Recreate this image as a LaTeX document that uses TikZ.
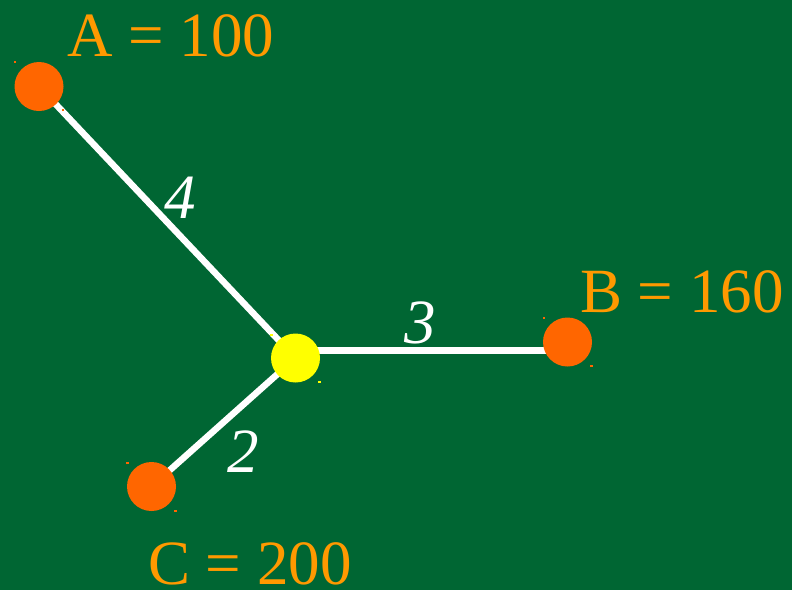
\documentclass[tikz,border=0pt]{standalone}
\usepackage{fontspec}
\setmainfont{Liberation Serif}
\definecolor{bg}{HTML}{006633}
\definecolor{dotor}{HTML}{FF6600}
\definecolor{txtor}{HTML}{FF9900}
\definecolor{ylw}{HTML}{FFFF00}
\tikzset{
  dotnode/.style={circle,inner sep=0pt,minimum size=49pt,draw=none},
  edge/.style={white,line width=6.5pt},
  vallabel/.style={inner sep=0pt,anchor=base west,text=txtor,font=\fontsize{63}{70}\selectfont},
  wlabel/.style={inner sep=0pt,anchor=base west,text=white,font=\fontsize{63}{70}\selectfont\itshape},
  speck/.style={minimum width=2.5pt,minimum height=2pt,inner sep=0pt,draw=none}
}
\begin{document}
\begin{tikzpicture}[x=1pt,y=-1pt]
\fill[bg] (0,0) rectangle (792,590);
\useasboundingbox (0,0) rectangle (792,590);
\coordinate (pa) at (39,86.5);
\coordinate (pb) at (567.5,342);
\coordinate (pc) at (151.5,486.5);
\coordinate (py) at (295.5,358);
\coordinate (yb) at (300,350.5);
\coordinate (by) at (567.5,350.5);
\draw[edge] (pa) -- (py);
\draw[edge] (pc) -- (py);
\draw[edge] (yb) -- (by);
\node[dotnode,fill=dotor] (a) at (pa) {};
\node[dotnode,fill=dotor] (b) at (pb) {};
\node[dotnode,fill=dotor] (c) at (pc) {};
\node[dotnode,fill=ylw] (y) at (py) {};
\node[speck,fill=dotor] (a1) at (15,62) {};
\node[speck,fill=dotor] (a2) at (63,110) {};
\node[speck,fill=ylw] (y1) at (271.5,334.5) {};
\node[speck,fill=ylw] (y2) at (319.5,382) {};
\node[speck,fill=dotor] (b1) at (544,318) {};
\node[speck,fill=dotor] (b2) at (591.5,366) {};
\node[speck,fill=dotor] (c1) at (127.5,462.5) {};
\node[speck,fill=dotor] (c2) at (175.5,510.5) {};
\node[vallabel] (la) at (67,56) {A = 100};
\node[vallabel] (lb) at (580,312) {B = 160};
\node[vallabel] (lc) at (148,584) {C = 200};
\node[wlabel] (l4) at (164,218) {4};
\node[wlabel] (l2) at (227,472) {2};
\node[wlabel] (l3) at (404,343) {3};
\end{tikzpicture}
\end{document}
